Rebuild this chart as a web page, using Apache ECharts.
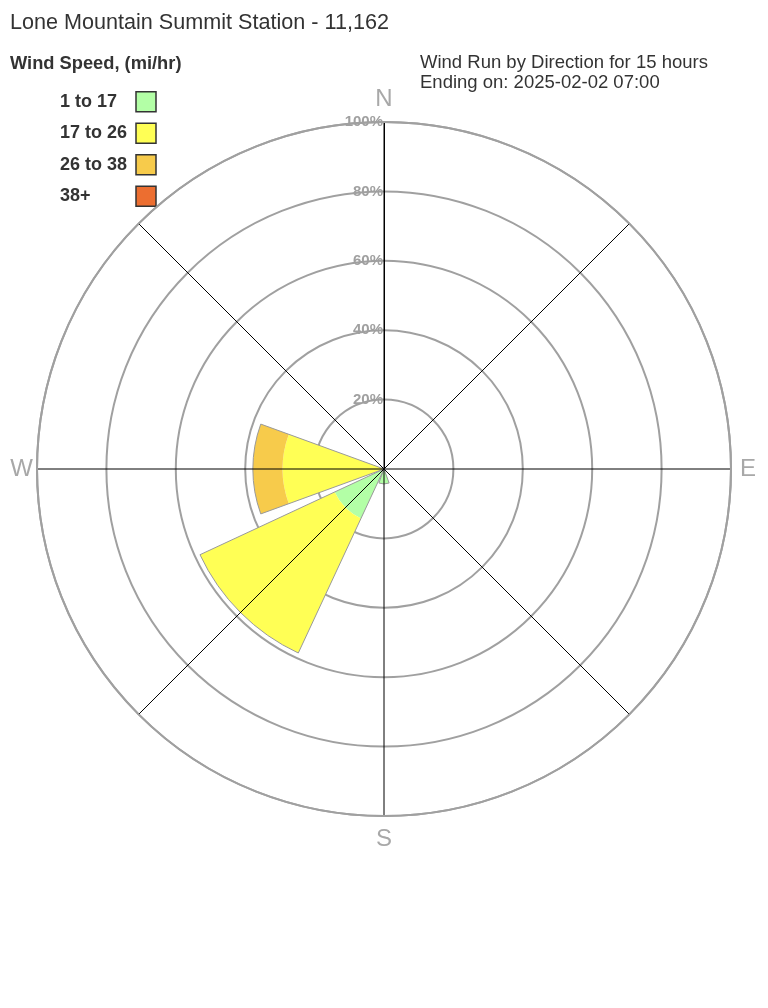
<!DOCTYPE html>
<html><head><meta charset="utf-8">
<script src="https://cdn.jsdelivr.net/npm/echarts@6/dist/echarts.min.js"></script>
<style>html,body{margin:0;padding:0;background:#fff}#c{width:768px;height:1008px}</style>
</head><body><div id="c"></div>
<script>
// ---- data ----
const directions = ['N', 'NE', 'E', 'SE', 'S', 'SW', 'W', 'NW'];
const speedBins = ['1 to 17', '17 to 26', '26 to 38', '38+'];
const bin1to17 = [0, 0, 0, 0, 4.3, 15.7, 0, 0];
const bin17to26 = [0, 0, 0, 0, 0, 42.8, 29.2, 0];
const bin26to38 = [0, 0, 0, 0, 0, 0, 8.6, 0];
const bin38plus = [0, 0, 0, 0, 0, 0, 0, 0];
const compassLabels = { 0: 'N', 90: 'E', 180: 'S', 270: 'W' };
const titleText = 'Lone Mountain Summit Station - 11,162';
const legendTitle = 'Wind Speed, (mi/hr)';
const infoText = 'Wind Run by Direction for 15 hours\nEnding on: 2025-02-02 07:00';

// ---- styles ----
const FONT = '"Liberation Sans", Arial, sans-serif';
const binColors = ['#b3ffa6', '#ffff55', '#f7cb4b', '#ec6e30'];
const CENTER = [384, 469];
const RADIUS = 347;

const bins = [bin1to17, bin17to26, bin26to38, bin38plus];
const totals = directions.map((d, i) => {
  const s = bins.reduce((a, b) => a + b[i], 0);
  return s > 0 ? s : null;
});

const series = bins.map((d, i) => ({
  type: 'bar', name: speedBins[i], coordinateSystem: 'polar', polarIndex: 0,
  stack: 'run', data: d, itemStyle: { color: binColors[i] },
  barCategoryGap: '11%', barGap: '-100%', z: 2, silent: true
}));
series.push({
  type: 'bar', name: 'outline', coordinateSystem: 'polar', polarIndex: 0,
  data: totals, itemStyle: { color: 'rgba(0,0,0,0)', borderColor: '#9a9a9a', borderWidth: 1 },
  barCategoryGap: '11%', barGap: '-100%', z: 3, silent: true
});

const compassRich = {
  N: { padding: [0, 0, 7, 0], color: '#a8a8a8', fontSize: 24, fontFamily: FONT },
  E: { padding: [0, 0, 0, 5], color: '#a8a8a8', fontSize: 24, fontFamily: FONT },
  S: { padding: [7, 0, 0, 0], color: '#a8a8a8', fontSize: 24, fontFamily: FONT },
  W: { padding: [0, 0, 0, 0], color: '#a8a8a8', fontSize: 24, fontFamily: FONT }
};

const chart = echarts.init(document.getElementById('c'), null, { renderer: 'canvas' });
chart.setOption({
  animation: false,
  backgroundColor: '#fff',
  textStyle: { fontFamily: FONT },
  title: [
    { text: titleText, left: 10, top: 12, padding: 0, textStyle: { fontFamily: FONT, fontSize: 21.6, fontWeight: 'normal', color: '#333' } },
    { text: legendTitle, left: 10, top: 55, padding: 0, textStyle: { fontFamily: FONT, fontSize: 18.3, fontWeight: 'bold', color: '#333' } },
    { text: infoText, left: 420, top: 53, padding: 0, textStyle: { fontFamily: FONT, fontSize: 18.5, fontWeight: 'normal', color: '#333', lineHeight: 20 } }
  ],
  legend: {
    data: speedBins, orient: 'vertical', left: 60, top: 91, align: 'right', padding: 0,
    itemWidth: 20, itemHeight: 20, itemGap: 10, icon: 'rect', selectedMode: false,
    itemStyle: { borderColor: '#333', borderWidth: 1.5 },
    formatter: n => '{t|' + n + '}',
    textStyle: { fontFamily: FONT, fontSize: 18, fontWeight: 'bold', color: '#333',
      rich: { t: { width: 71, align: 'left', fontFamily: FONT, fontSize: 18, fontWeight: 'bold', color: '#333' } } }
  },
  polar: [
    { center: CENTER, radius: RADIUS },
    { center: CENTER, radius: RADIUS }
  ],
  angleAxis: [
    { polarIndex: 0, type: 'category', data: directions, startAngle: 112.5, show: false },
    { polarIndex: 1, type: 'value', min: 0, max: 360, interval: 45, startAngle: 90, z: 5,
      axisLine: { show: true, lineStyle: { color: '#a0a0a0', width: 2 } },
      axisTick: { show: false },
      splitLine: { show: true, lineStyle: { color: '#000', width: 1 } },
      axisLabel: { formatter: v => compassLabels[v] ? '{' + compassLabels[v] + '|' + compassLabels[v] + '}' : '',
        rich: compassRich, color: '#a8a8a8', fontSize: 24, margin: 4, fontFamily: FONT } }
  ],
  radiusAxis: [
    { polarIndex: 0, min: 0, max: 100, show: false },
    { polarIndex: 1, min: 0, max: 100, interval: 20, z: 1,
      axisLine: { show: true, lineStyle: { color: '#000', width: 1 } },
      axisTick: { show: false },
      splitLine: { show: true, lineStyle: { color: '#a0a0a0', width: 2 } },
      axisLabel: { formatter: v => v === 0 ? '' : v + '%', color: '#a0a0a0', fontSize: 15, fontWeight: 'bold', margin: 1, fontFamily: FONT } }
  ],
  series: series
});
</script>
</body></html>
